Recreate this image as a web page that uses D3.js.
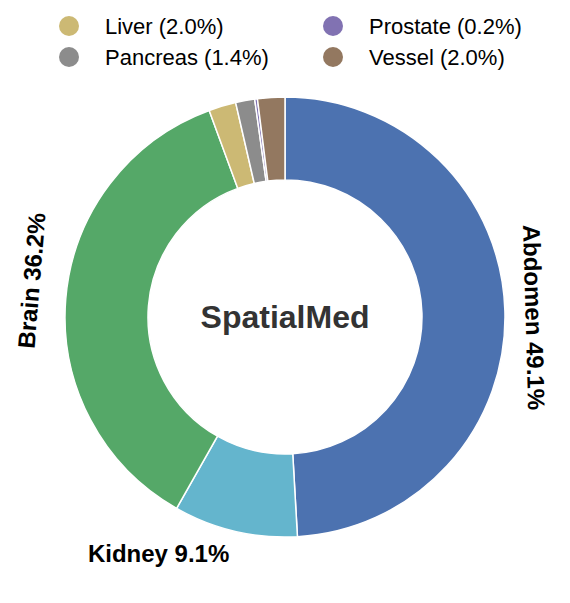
<!DOCTYPE html>
<html lang="en">
<head>
  <meta charset="UTF-8">
  <title>SpatialMed</title>
  <script src="https://d3js.org/d3.v7.min.js"></script>
  <style>
    body {
      margin: 0;
      background: #fff;
      font-family: 'Liberation Sans', Arial, sans-serif;
    }
    .slice-label {
      font-size: 24px;
      font-weight: bold;
      fill: #000;
    }
    .legend-label {
      font-size: 22px;
      fill: #000;
    }
    .center-title {
      font-size: 32px;
      font-weight: bold;
      fill: #333;
    }
  </style>
</head>
<body>
  <svg id="chart" width="570" height="603"></svg>

  <script>
    // data (percent of cases)
    const categories = ["Abdomen", "Kidney", "Brain", "Liver", "Pancreas", "Prostate", "Vessel"];
    const shares = [49.1, 9.1, 36.2, 2.0, 1.4, 0.2, 2.0];
    const sliceColors = ["#4C72B0", "#64B5CD", "#55A868", "#CCB974", "#8C8C8C", "#8172B2", "#937860"];
    const centerTitle = "SpatialMed";

    const dataset = categories.map((name, i) => ({ name, value: shares[i], color: sliceColors[i] }));

    const width = 570, height = 603;
    const cx = 285, cy = 317;
    const outerR = 220, innerR = 137;

    const svg = d3.select("#chart")
      .attr("width", width)
      .attr("height", height);

    const g = svg.append("g")
      .attr("transform", `translate(${cx},${cy})`);

    // pie starts at 12 o'clock and runs clockwise, in data order
    const pie = d3.pie()
      .sort(null)
      .value(d => d.value);

    const arc = d3.arc()
      .innerRadius(innerR)
      .outerRadius(outerR);

    const arcs = pie(dataset);

    g.selectAll("path.slice")
      .data(arcs)
      .enter()
      .append("path")
      .attr("class", "slice")
      .attr("d", arc)
      .attr("fill", d => d.data.color)
      .attr("stroke", "#fff")
      .attr("stroke-width", 1.5);

    // big slices get a label next to the ring, small ones go in the legend
    const bigOnes = arcs.filter(d => d.data.value >= 5);
    const smallOnes = arcs.filter(d => d.data.value < 5);

    // nudges (degrees, radius) so labels sit where the original put them
    const labelPlace = {
      Abdomen: { da: 1.7, r: 249 },
      Kidney: { da: 15, r: 268 },
      Brain: { da: 3.5, r: 256 }
    };

    g.selectAll(".slice-label")
      .data(bigOnes)
      .enter()
      .append("text")
      .attr("class", "slice-label")
      .attr("text-anchor", "middle")
      .attr("dy", "0.35em")
      .attr("transform", d => {
        const mid = (d.startAngle + d.endAngle) / 2 * 180 / Math.PI;
        const p = labelPlace[d.data.name];
        const a = (mid + p.da) * Math.PI / 180;
        const x = p.r * Math.sin(a);
        const y = -p.r * Math.cos(a);
        // tangential text on the sides, flat text near top / bottom
        const sideways = Math.abs(Math.sin(mid * Math.PI / 180)) > 0.7;
        const rot = sideways ? mid : 0;
        return `translate(${x},${y}) rotate(${rot})`;
      })
      .text(d => `${d.data.name} ${d.data.value.toFixed(1)}%`);

    // centre title
    g.append("text")
      .attr("class", "center-title")
      .attr("text-anchor", "middle")
      .attr("dy", "0.35em")
      .text(centerTitle);

    // legend: two columns, filled column by column
    const legend = svg.append("g").attr("class", "legend");
    const colX = [69, 333], rowY = [26, 57];

    const items = legend.selectAll("g.item")
      .data(smallOnes)
      .enter()
      .append("g")
      .attr("class", "item")
      .attr("transform", (d, i) => `translate(${colX[Math.floor(i / 2)]},${rowY[i % 2]})`);

    items.append("circle")
      .attr("r", 10)
      .attr("fill", d => d.data.color);

    items.append("text")
      .attr("class", "legend-label")
      .attr("x", 36)
      .attr("dy", "0.35em")
      .text(d => `${d.data.name} (${d.data.value.toFixed(1)}%)`);
  </script>
</body>
</html>
